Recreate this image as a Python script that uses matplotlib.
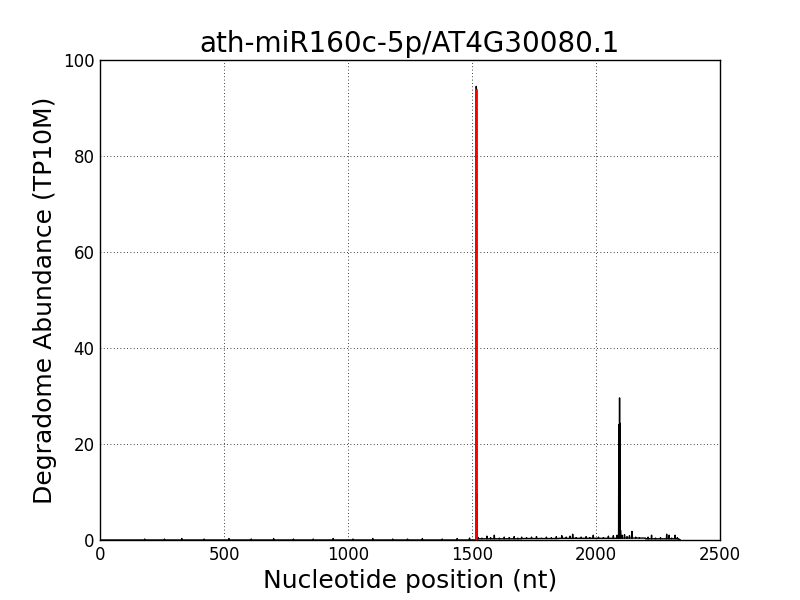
import numpy as np
import matplotlib
matplotlib.use("Agg")
import matplotlib.pyplot as plt

title = "ath-miR160c-5p/AT4G30080.1"
transcript_len = 2340

# background read level along stretches of the transcript (start, end, TP10M)
seg_start = [1520, 1700, 1850, 2000, 2100, 2200]
seg_end = [1700, 1850, 2000, 2100, 2200, 2335]
seg_level = [0.25, 0.3, 0.35, 0.35, 0.4, 0.25]

# degradome peaks (position, TP10M)
peak_pos = [1517, 1518, 1520, 2092, 2093, 2095, 2097, 2099]
peak_val = [94.5, 94.0, 9.6, 24.0, 20.0, 29.6, 24.3, 2.0]

low_pos = [180, 260, 330, 420, 520, 610, 700, 780, 860, 940, 1020, 1100, 1180,
           1240, 1300, 1380, 1440, 1490,
           1525, 1540, 1560, 1575, 1590, 1610, 1630, 1650, 1670, 1685, 1700,
           1720, 1740, 1760, 1780, 1800, 1820, 1840, 1862, 1880, 1895, 1906,
           1920, 1940, 1960, 1975, 1989, 2010, 2030, 2050, 2070, 2085, 2105,
           2115, 2125, 2135, 2145, 2160, 2175, 2190, 2210, 2224, 2240, 2260,
           2285, 2295, 2305, 2319, 2328]
low_val = [0.2, 0.2, 0.3, 0.2, 0.3, 0.2, 0.3, 0.2, 0.2, 0.3, 0.2, 0.3, 0.2,
           0.2, 0.3, 0.2, 0.3, 0.4,
           0.5, 0.4, 0.8, 0.5, 1.0, 0.4, 0.6, 0.5, 0.7, 0.4, 0.6,
           0.5, 0.6, 0.7, 0.4, 0.6, 0.5, 0.7, 0.9, 0.6, 0.8, 1.2,
           0.5, 0.6, 0.7, 0.5, 1.0, 0.6, 0.5, 0.8, 0.9, 1.0, 1.0,
           1.1, 0.7, 0.9, 1.8, 0.6, 0.5, 0.4, 0.6, 1.0, 0.4, 0.5,
           1.2, 1.0, 0.4, 1.0, 0.5]

cleavage_pos = 1518
cleavage_val = 94.0

abundance = np.zeros(transcript_len + 1)
for s, e, lv in zip(seg_start, seg_end, seg_level):
    abundance[s:e] = lv
abundance[low_pos] = low_val
abundance[peak_pos] = peak_val
positions = np.arange(transcript_len + 1)

fig = plt.figure(figsize=(8, 6), dpi=100, facecolor="white")
ax = fig.add_axes([0.125, 0.1, 0.775, 0.8])

ax.plot(positions, abundance, color="black", linewidth=1)
ax.vlines(cleavage_pos, 0, cleavage_val, color="red", linewidth=2)

ax.set_xlim(0, 2500)
ax.set_ylim(0, 100)
ax.set_xticks([0, 500, 1000, 1500, 2000, 2500])
ax.set_yticks([0, 20, 40, 60, 80, 100])
ax.grid(True, color="black", linestyle=(0, (1, 3)), linewidth=0.6)
ax.tick_params(length=0, labelsize=12, pad=4)
for sp in ax.spines.values():
    sp.set_linewidth(1)

ax.set_title(title, fontsize=20)
ax.set_xlabel("Nucleotide position (nt)", fontsize=18)
ax.set_ylabel("Degradome Abundance (TP10M)", fontsize=18)

fig.savefig("out.png", dpi=100, facecolor="white")
